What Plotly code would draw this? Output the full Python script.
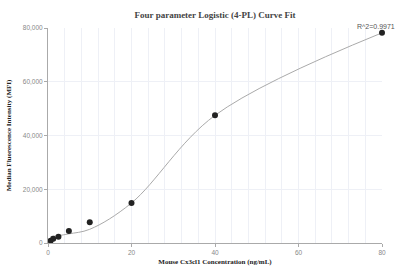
import plotly.graph_objects as go

conc = [0.625, 1.25, 2.5, 5, 10, 20, 40, 80]
mfi = [850, 1600, 2300, 4500, 7700, 14900, 47500, 78200]
# fitted 4PL curve values at each standard concentration
fit_mfi = [2400, 2500, 2750, 3400, 5100, 14900, 47500, 78200]
r2_text = "R^2=0.9971"

fig = go.Figure()
fig.add_trace(go.Scatter(x=conc, y=fit_mfi, mode="lines",
                         line=dict(color="#aaaaaa", width=1, shape="spline", smoothing=1),
                         hoverinfo="skip"))
fig.add_trace(go.Scatter(x=conc, y=mfi, mode="markers",
                         marker=dict(color="#222222", size=6), cliponaxis=False))

fig.add_annotation(xref="paper", yref="y", x=1, y=mfi[-1], xshift=15,
                   text=r2_text, showarrow=False,
                   xanchor="right", yanchor="bottom", yshift=1,
                   font=dict(family="Liberation Sans, Arial", size=7, color="#555555"))

fig.update_layout(
    width=398, height=270,
    margin=dict(l=48, r=16, t=28, b=27),
    paper_bgcolor="white", plot_bgcolor="white",
    showlegend=False,
    title=dict(text="<b>Four parameter Logistic (4-PL) Curve Fit</b>",
               xref="paper", x=0.5, xanchor="center",
               yref="container", y=0.945, yanchor="middle",
               font=dict(family="Liberation Serif, Times New Roman, serif", size=9, color="#444444")),
    font=dict(family="Liberation Sans, Arial", size=6, color="#888888"),
)
fig.update_xaxes(
    range=[0, 80], dtick=20, tick0=0, automargin=False,
    showgrid=True, gridcolor="#eef0f6", gridwidth=1,
    minor=dict(dtick=4, showgrid=True, gridcolor="#eef0f6"),
    showline=True, linecolor="#aaaaaa", linewidth=1,
    ticks="outside", ticklen=3, tickcolor="#aaaaaa",
    zeroline=False,
    tickfont=dict(family="Liberation Sans, Arial", size=6.5, color="#888888"),
    title=dict(text="<b>Mouse Cx3cl1 Concentration (ng/mL)</b>", standoff=4,
               font=dict(family="Liberation Serif, Times New Roman, serif", size=7, color="#222222")),
)
fig.update_yaxes(
    range=[0, 80000], dtick=20000, tickformat=",", automargin=False,
    showgrid=True, gridcolor="#eef0f6", gridwidth=1,
    showline=True, linecolor="#aaaaaa", linewidth=1,
    ticks="outside", ticklen=3, tickcolor="#aaaaaa",
    zeroline=False,
    tickfont=dict(family="Liberation Sans, Arial", size=6.5, color="#888888"),
    title=dict(text="<b>Median Fluorescence Intensity (MFI)</b>", standoff=10,
               font=dict(family="Liberation Serif, Times New Roman, serif", size=7, color="#222222")),
)

fig.write_html("out.html", config={"displayModeBar": False},
               post_script="document.body.style.margin='0';")
